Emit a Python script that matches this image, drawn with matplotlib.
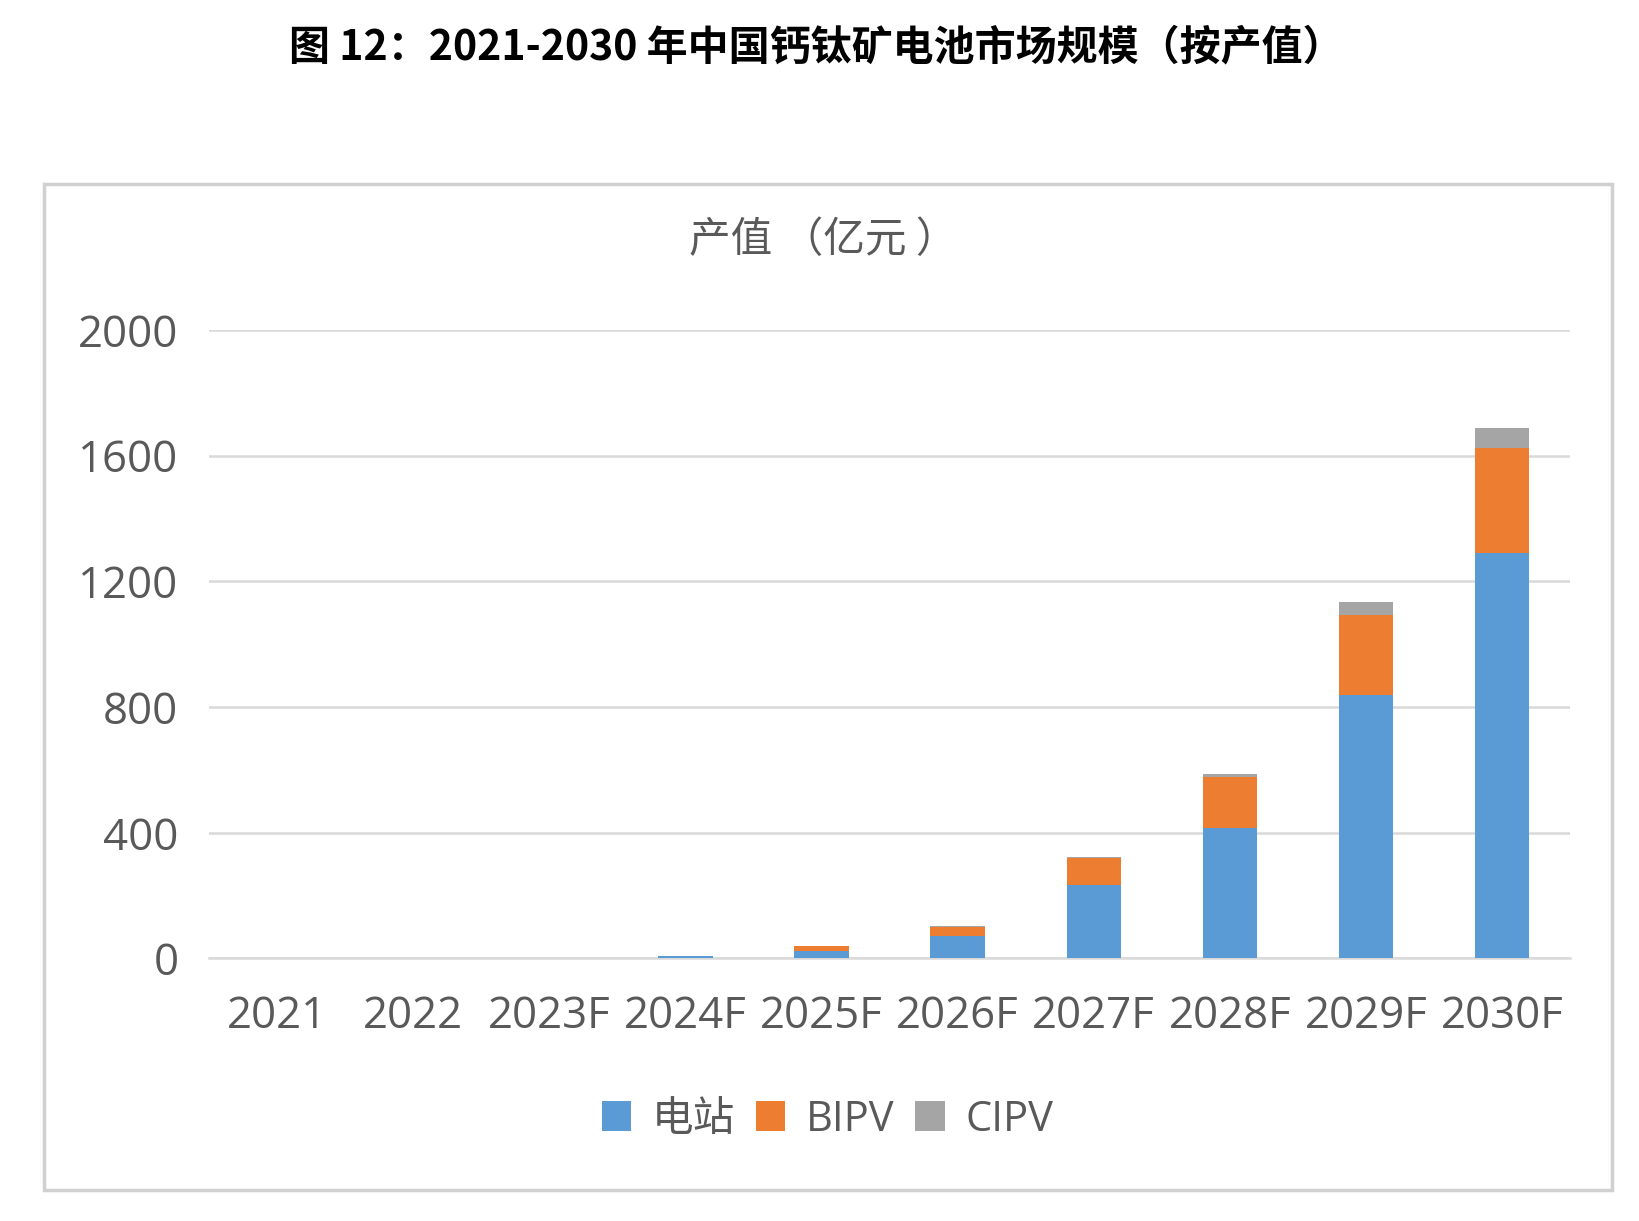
import matplotlib
matplotlib.use('Agg')
import matplotlib.pyplot as plt
from matplotlib.patches import Rectangle
import numpy as np

plt.rcParams['font.family'] = ['Noto Sans CJK SC', 'DejaVu Sans']
num_font = ['Open Sans', 'Noto Sans CJK SC']

# data (亿元)
years = ['2021', '2022', '2023F', '2024F', '2025F', '2026F', '2027F', '2028F', '2029F', '2030F']
station = [0, 0, 3, 7, 23, 70, 234, 415, 840, 1290]   # 电站
bipv = [0, 0, 0, 2, 18, 30, 85, 164, 252, 335]         # BIPV
cipv = [0, 0, 0, 0, 0, 3, 3, 9, 41, 64]                # CIPV
yticks = [0, 400, 800, 1200, 1600, 2000]

c_blue = '#5B9BD5'
c_orange = '#ED7D31'
c_grey = '#A5A5A5'
txt_grey = '#595959'

fig = plt.figure(figsize=(16.39, 12.21), dpi=100)

# panel frame
fig.patches.append(Rectangle((44 / 1639, 1 - 1190 / 1221), (1612 - 44) / 1639, (1190 - 184) / 1221,
                             transform=fig.transFigure, facecolor='white',
                             edgecolor='#d0d0d0', linewidth=2.5, zorder=0))

fig.text(0.498, 0.961, '图 12：2021-2030 年中国钙钛矿电池市场规模（按产值）',
         ha='center', va='center', fontsize=29.5, fontweight='bold', color='black')

ax = fig.add_axes([0.1275, 0.215, 0.958 - 0.1275, 0.7297 - 0.215])
ax.set_zorder(2)
x = np.arange(len(years))
s = np.array(station)
b = np.array(bipv)
c = np.array(cipv)
w = 0.4
ax.bar(x, s, width=w, color=c_blue, label='电站', zorder=3)
ax.bar(x, b, width=w, bottom=s, color=c_orange, label='BIPV', zorder=3)
ax.bar(x, c, width=w, bottom=s + b, color=c_grey, label='CIPV', zorder=3)

ax.set_xlim(-0.5, len(years) - 0.5)
ax.set_ylim(0, 2000)
ax.set_yticks(yticks)
ax.set_yticklabels([str(v) for v in yticks], family=num_font)
ax.set_xticks(x)
ax.set_xticklabels(years, family=num_font)
ax.grid(axis='y', color='#d9d9d9', linewidth=1.8, zorder=0)
for sp in ['top', 'right', 'left']:
    ax.spines[sp].set_visible(False)
ax.spines['bottom'].set_color('#d9d9d9')
ax.spines['bottom'].set_linewidth(1.8)
ax.tick_params(axis='both', length=0, labelsize=31.5, colors=txt_grey)
ax.tick_params(axis='y', pad=22)
ax.tick_params(axis='x', pad=26)
ax.set_facecolor('none')

fig.text(0.502, 0.803, '产值 （亿元 ）', ha='center', va='center', fontsize=30, color=txt_grey)

leg = fig.legend(loc='center', bbox_to_anchor=(0.505, 0.083), ncol=3, frameon=False,
                 prop={'family': num_font, 'size': 30}, labelcolor=txt_grey,
                 handlelength=0.7, handleheight=0.7, handletextpad=0.5, columnspacing=0.5)

fig.savefig('out.png', dpi=100)
